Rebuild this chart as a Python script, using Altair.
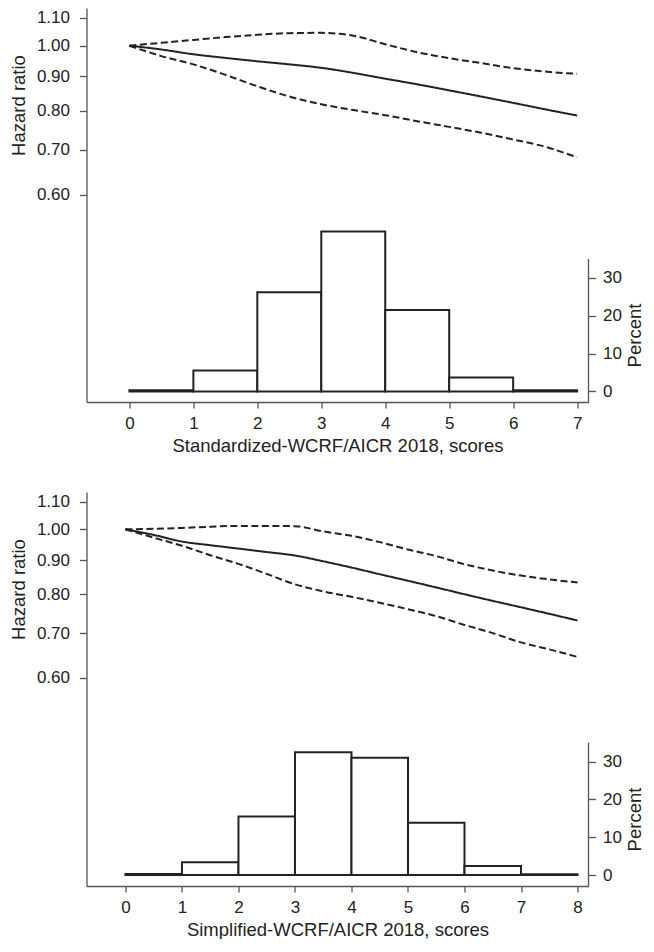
import altair as alt
import pandas as pd

FONT = "Liberation Sans"
INK = "#222222"
AXC = "#555555"

# ---------------- Panel 1: Standardized score ----------------
score1 = [0, 0.5, 1, 1.5, 2, 2.5, 3, 3.5, 4, 4.5, 5, 5.5, 6, 6.5, 7]
hr1 = [1.0, 0.987, 0.971, 0.959, 0.948, 0.938, 0.927, 0.911, 0.893, 0.876, 0.858, 0.840, 0.822, 0.804, 0.787]
upper1 = [1.0, 1.01, 1.02, 1.03, 1.038, 1.044, 1.045, 1.035, 1.005, 0.978, 0.958, 0.942, 0.926, 0.915, 0.908]
lower1 = [1.0, 0.965, 0.938, 0.905, 0.87, 0.84, 0.818, 0.802, 0.788, 0.772, 0.757, 0.742, 0.725, 0.707, 0.682]
bins1 = [0, 1, 2, 3, 4, 5, 6]
pct1 = [0.3, 5.5, 26.2, 42.3, 21.5, 3.7, 0.3]
xticks1 = [0, 1, 2, 3, 4, 5, 6, 7]
xtitle1 = "Standardized-WCRF/AICR 2018, scores"

# ---------------- Panel 2: Simplified score ----------------
score2 = [0, 0.5, 1, 1.5, 2, 2.5, 3, 3.5, 4, 4.5, 5, 5.5, 6, 6.5, 7, 7.5, 8]
hr2 = [1.0, 0.981, 0.959, 0.947, 0.936, 0.925, 0.914, 0.896, 0.877, 0.857, 0.838, 0.819, 0.800, 0.782, 0.765, 0.748, 0.731]
upper2 = [1.0, 1.002, 1.005, 1.009, 1.012, 1.012, 1.011, 0.993, 0.978, 0.957, 0.933, 0.912, 0.887, 0.868, 0.853, 0.842, 0.833]
lower2 = [1.0, 0.972, 0.945, 0.915, 0.888, 0.858, 0.828, 0.808, 0.793, 0.777, 0.76, 0.742, 0.72, 0.7, 0.678, 0.662, 0.645]
bins2 = [0, 1, 2, 3, 4, 5, 6, 7]
pct2 = [0.3, 3.4, 15.5, 32.5, 31.0, 13.8, 2.4, 0.2]
xticks2 = [0, 1, 2, 3, 4, 5, 6, 7, 8]
xtitle2 = "Simplified-WCRF/AICR 2018, scores"

hr_ticks = [0.6, 0.7, 0.8, 0.9, 1.0, 1.1]
pct_ticks = [0, 10, 20, 30]
pct_axis_top = 35

W, H = 502, 394


def panel(score, hr, upper, lower, bins, pct, xticks, xtitle, xdom, hrdom, pctdom):
    n = len(score)
    lines = pd.DataFrame({
        "score": score * 3,
        "hr": hr + upper + lower,
        "band": ["estimate"] * n + ["upper"] * n + ["lower"] * n,
    })
    hist = pd.DataFrame({
        "start": bins,
        "end": [b + 1 for b in bins],
        "base": [0] * len(bins),
        "pct": pct,
    })
    axisline = pd.DataFrame({"x": [xdom[1]], "y": [pctdom[0]], "y2": [pct_axis_top]})

    xs = alt.Scale(domain=xdom, nice=False, zero=False)
    xaxis = alt.Axis(values=xticks, title=xtitle, tickSize=6, labelPadding=7,
                     titlePadding=5, format="d")

    line_layer = alt.Chart(lines).mark_line(
        color=INK, strokeWidth=2, interpolate="monotone"
    ).encode(
        x=alt.X("score:Q", scale=xs, axis=xaxis),
        y=alt.Y("hr:Q",
                scale=alt.Scale(type="log", domain=hrdom, nice=False, zero=False),
                axis=alt.Axis(orient="left", values=hr_ticks, format=".2f",
                              title="Hazard ratio", tickSize=7, labelPadding=10,
                              titleAngle=270, titleBaseline="alphabetic",
                              titleX=-62, titleY=97, titleAlign="center")),
        strokeDash=alt.StrokeDash("band:N", legend=None,
                                  scale=alt.Scale(domain=["estimate", "upper", "lower"],
                                                  range=[[1, 0], [7, 3.5], [7, 3.5]])),
        detail="band:N",
    )

    hist_layer = alt.Chart(hist).mark_rect(
        fill="white", stroke=INK, strokeWidth=2
    ).encode(
        x=alt.X("start:Q", scale=xs, axis=xaxis),
        x2="end:Q",
        y=alt.Y("base:Q",
                scale=alt.Scale(domain=pctdom, nice=False, zero=False),
                axis=alt.Axis(orient="right", values=pct_ticks, domain=False,
                              title="Percent", tickSize=7, labelPadding=7,
                              titleAngle=270, titleBaseline="alphabetic",
                              titleX=52, titleY=327, titleAlign="center")),
        y2="pct:Q",
    )

    rule_layer = alt.Chart(axisline).mark_rule(color=AXC, strokeWidth=1.3).encode(
        x=alt.X("x:Q", scale=xs, axis=xaxis),
        y=alt.Y("y:Q", scale=alt.Scale(domain=pctdom, nice=False, zero=False), axis=None),
        y2="y2:Q",
    )

    return alt.layer(hist_layer, line_layer, rule_layer).resolve_scale(
        y="independent"
    ).properties(width=W, height=H)


p1 = panel(score1, hr1, upper1, lower1, bins1, pct1, xticks1, xtitle1,
           [-0.671, 7.178], [0.2947, 1.138], [-2.8, 101.4])
p2 = panel(score2, hr2, upper2, lower2, bins2, pct2, xticks2, xtitle2,
           [-0.689, 8.194], [0.2935, 1.137], [-2.9, 101.3])

chart = alt.vconcat(p1, p2, spacing=90, bounds="flush").properties(
    padding={"top": 0, "left": 1.5, "right": 0, "bottom": 0},
).configure_view(stroke=None).configure_axis(
    grid=False,
    domainColor=AXC,
    domainWidth=1.3,
    tickColor=AXC,
    tickWidth=1.3,
    labelFont=FONT,
    labelFontSize=17,
    labelColor=INK,
    titleFont=FONT,
    titleFontSize=18.5,
    titleFontWeight="normal",
    titleColor=INK,
)

chart.save("out.html", embed_options={"renderer": "svg", "actions": False})
